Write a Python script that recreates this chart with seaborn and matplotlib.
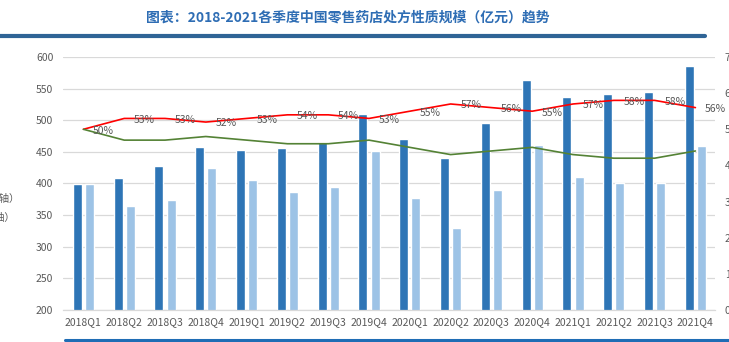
import matplotlib
matplotlib.use("Agg")
import matplotlib.pyplot as plt
import seaborn as sns
import pandas as pd
import numpy as np

quarters = ["2018Q1", "2018Q2", "2018Q3", "2018Q4", "2019Q1", "2019Q2", "2019Q3", "2019Q4",
            "2020Q1", "2020Q2", "2020Q3", "2020Q4", "2021Q1", "2021Q2", "2021Q3", "2021Q4"]
rx_sales = [399, 408, 427, 458, 453, 456, 465, 510, 470, 440, 495, 563, 537, 542, 544, 585]
otc_sales = [399, 364, 374, 425, 406, 386, 394, 451, 377, 330, 390, 461, 410, 400, 401, 460]
rx_share = [50, 53, 53, 52, 53, 54, 54, 53, 55, 57, 56, 55, 57, 58, 58, 56]
otc_share = [50, 47, 47, 48, 47, 46, 46, 47, 45, 43, 44, 45, 43, 42, 42, 44]
left_ticks = [200, 250, 300, 350, 400, 450, 500, 550, 600]
right_ticks = [0, 10, 20, 30, 40, 50, 60, 70]

sns.set_theme(style="white")
plt.rcParams['font.family'] = ['Noto Sans CJK SC', 'DejaVu Sans']

W, H = 729, 342
fig = plt.figure(figsize=(W / 100, H / 100), dpi=100)
ax = fig.add_axes([63 / W, 32 / H, (715 - 63) / W, (310 - 57) / H])

df = pd.DataFrame({
    "季度": quarters * 2,
    "规模": rx_sales + otc_sales,
    "类型": ["处方药（左轴）"] * len(quarters) + ["非处方药（左轴）"] * len(quarters),
})
sns.barplot(data=df, x="季度", y="规模", hue="类型", palette=["#2e75b6", "#9dc3e6"],
            width=0.6, gap=0.27, saturation=1, legend=False, ax=ax)

gray = "#595959"
ax.set_ylim(200, 600)
ax.set_xlim(-0.5, 15.48)
ax.set_yticks(left_ticks)
ax.set_yticklabels([str(v) for v in left_ticks])
ax.grid(axis="y", color="#d9d9d9", linewidth=0.9)
ax.set_axisbelow(True)
for s in ["top", "left", "right"]:
    ax.spines[s].set_visible(False)
ax.spines["bottom"].set_color("#d9d9d9")
ax.spines["bottom"].set_linewidth(0.9)
ax.set_xlabel("")
ax.set_ylabel("")
ax.tick_params(axis="y", length=0, pad=7, labelsize=7.5, labelcolor=gray)
ax.tick_params(axis="x", length=0, pad=5, labelsize=7.5, labelcolor=gray)

ax2 = ax.twinx()
xs = np.arange(len(quarters))
sns.lineplot(x=xs, y=rx_share, color="#ff0000", linewidth=1.2, ax=ax2)
sns.lineplot(x=xs, y=otc_share, color="#548235", linewidth=1.2, ax=ax2)
ax2.set_ylim(0, 70)
ax2.set_yticks(right_ticks)
ax2.set_yticklabels([f"{v}%" for v in right_ticks])
ax2.tick_params(axis="y", length=0, pad=7, labelsize=7.5, labelcolor=gray)
for s in ["top", "left", "right", "bottom"]:
    ax2.spines[s].set_visible(False)
ax2.grid(False)
for x, v in zip(xs, rx_share):
    ax2.annotate(f"{v}%", (x, v), xytext=(7, -1), textcoords="offset points",
                 ha="left", va="center", fontsize=7.5, color=gray)

# title and decorations
fig.text(348 / W, 1 - 18 / H, "图表：2018-2021各季度中国零售药店处方性质规模（亿元）趋势",
         ha="center", va="center", fontsize=10, fontweight="bold", color="#2e6db4")
fig.add_artist(plt.Line2D([0, 705 / W], [1 - 36 / H, 1 - 36 / H], color="#2f6496",
                          linewidth=3, transform=fig.transFigure))
fig.add_artist(plt.Line2D([65 / W, 1], [1 - 340 / H, 1 - 340 / H], color="#1f6db5",
                          linewidth=2.2, transform=fig.transFigure))

fig.text(20 / W, 1 - 198 / H, "处方药占比（右轴）", ha="right", va="center",
         fontsize=7.5, color=gray)
fig.text(15 / W, 1 - 217 / H, "非处方药占比（右轴）", ha="right", va="center",
         fontsize=7.5, color=gray)

fig.savefig("out.png", dpi=100)
